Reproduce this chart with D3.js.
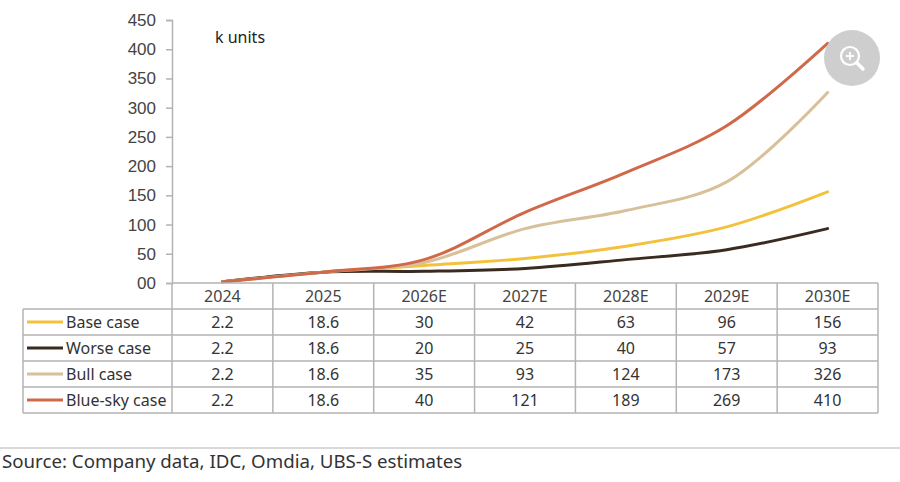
<!DOCTYPE html>
<html>
<head>
<meta charset="utf-8">
<script src="https://cdn.jsdelivr.net/npm/d3@7"></script>
<style>
  body { margin: 0; background: #fff; }
  svg { display: block; font-family: "Noto Sans", "Open Sans", sans-serif; }
</style>
</head>
<body>
<svg id="chart" width="900" height="482"></svg>
<script>
// Years along the x axis / table header
const years = ['2024', '2025', '2026E', '2027E', '2028E', '2029E', '2030E'];

// Series values (k units)
const baseCase = [2.2, 18.6, 30, 42, 63, 96, 156];
const worseCase = [2.2, 18.6, 20, 25, 40, 57, 93];
const bullCase = [2.2, 18.6, 35, 93, 124, 173, 326];
const blueSkyCase = [2.2, 18.6, 40, 121, 189, 269, 410];

const seriesNames = ['Base case', 'Worse case', 'Bull case', 'Blue-sky case'];
const seriesColors = ['#f3c23c', '#3a2a1f', '#d7c09a', '#d0694a'];

const yTicks = [0, 50, 100, 150, 200, 250, 300, 350, 400, 450];

const series = [baseCase, worseCase, bullCase, blueSkyCase].map((values, i) => ({
  name: seriesNames[i],
  color: seriesColors[i],
  values: values
}));

const svg = d3.select('#chart');
const grid = '#b3b3b3';
const ink = '#333';

// Columns of the table share the x positions of the chart
const x = d3.scaleBand()
  .domain(years)
  .range([172, 878])
  .padding(0);

const y = d3.scaleLinear()
  .domain([0, 450])
  .range([283, 20]);

// Table rows: header row then one row per series
const rows = d3.scaleBand()
  .domain(['header'].concat(seriesNames))
  .range([283, 413]);

// y axis
const yAxis = d3.axisLeft(y)
  .tickValues(yTicks)
  .tickSize(6)
  .tickFormat(d => (d === 0 ? '00' : d));

const gy = svg.append('g')
  .attr('transform', 'translate(172,0)')
  .call(yAxis);

gy.select('.domain').attr('stroke', grid).attr('stroke-width', 1.5);
gy.selectAll('.tick line').attr('stroke', grid).attr('stroke-width', 1.5);
gy.selectAll('.tick text')
  .attr('fill', '#444')
  .attr('font-size', 17)
  .attr('x', -16);

svg.append('text')
  .attr('x', 215)
  .attr('y', 43)
  .attr('font-size', 16)
  .attr('fill', '#222')
  .text('k units');

// Lines, smoothed like the original
const line = d3.line()
  .x((d, i) => x(years[i]) + x.bandwidth() / 2)
  .y(d => y(d))
  .curve(d3.curveCatmullRom.alpha(0.5));

svg.append('g')
  .selectAll('path')
  .data(series)
  .join('path')
  .attr('fill', 'none')
  .attr('stroke', d => d.color)
  .attr('stroke-width', 3)
  .attr('stroke-linecap', 'round')
  .attr('d', d => line(d.values));

// Data table
const table = svg.append('g');
const tableLeft = 23;

// horizontal grid lines
const rowEdges = rows.domain().map(r => rows(r)).concat([rows.range()[1]]);
table.selectAll('line.h')
  .data(rowEdges)
  .join('line')
  .attr('class', 'h')
  .attr('x1', (d, i) => (i === 0 ? x.range()[0] : tableLeft))
  .attr('x2', x.range()[1])
  .attr('y1', d => d)
  .attr('y2', d => d)
  .attr('stroke', grid)
  .attr('stroke-width', 1.5);

// vertical grid lines
const colEdges = years.map(yr => x(yr)).concat([x.range()[1]]);
table.selectAll('line.v')
  .data(colEdges)
  .join('line')
  .attr('class', 'v')
  .attr('x1', d => d)
  .attr('x2', d => d)
  .attr('y1', rows.range()[0])
  .attr('y2', rows.range()[1])
  .attr('stroke', grid)
  .attr('stroke-width', 1.5);

table.append('line')
  .attr('x1', tableLeft)
  .attr('x2', tableLeft)
  .attr('y1', rows(seriesNames[0]))
  .attr('y2', rows.range()[1])
  .attr('stroke', grid)
  .attr('stroke-width', 1.5);

// header labels
table.selectAll('text.year')
  .data(years)
  .join('text')
  .attr('class', 'year')
  .attr('x', d => x(d) + x.bandwidth() / 2)
  .attr('y', rows('header') + rows.bandwidth() / 2)
  .attr('dy', '0.35em')
  .attr('text-anchor', 'middle')
  .attr('font-size', 16)
  .attr('fill', '#444')
  .text(d => d);

// series rows
const rowG = table.selectAll('g.row')
  .data(series)
  .join('g')
  .attr('class', 'row')
  .attr('transform', d => `translate(0,${rows(d.name) + rows.bandwidth() / 2})`);

rowG.append('line')
  .attr('x1', 27)
  .attr('x2', 63)
  .attr('stroke', d => d.color)
  .attr('stroke-width', 3);

rowG.append('text')
  .attr('x', 66)
  .attr('dy', '0.35em')
  .attr('font-size', 16)
  .attr('fill', ink)
  .text(d => d.name);

rowG.selectAll('text.val')
  .data(d => d.values)
  .join('text')
  .attr('class', 'val')
  .attr('x', (d, i) => x(years[i]) + x.bandwidth() / 2)
  .attr('dy', '0.35em')
  .attr('text-anchor', 'middle')
  .attr('font-size', 16)
  .attr('fill', ink)
  .text(d => d);

// source note
svg.append('line')
  .attr('x1', 0)
  .attr('x2', 900)
  .attr('y1', 448)
  .attr('y2', 448)
  .attr('stroke', '#ccc')
  .attr('stroke-width', 1.5);

svg.append('text')
  .attr('x', 2)
  .attr('y', 468)
  .attr('font-size', 18.7)
  .attr('fill', ink)
  .text('Source: Company data, IDC, Omdia, UBS-S estimates');

// zoom badge in the corner
const badge = svg.append('g').attr('transform', 'translate(852,58)');
badge.append('circle').attr('r', 28).attr('fill', '#c9c9c9').attr('opacity', 0.9);
badge.append('circle').attr('cx', -2).attr('cy', -2).attr('r', 9)
  .attr('fill', 'none').attr('stroke', '#fff').attr('stroke-width', 2.2);
badge.append('line').attr('x1', 5).attr('y1', 5).attr('x2', 11).attr('y2', 11)
  .attr('stroke', '#fff').attr('stroke-width', 3.5).attr('stroke-linecap', 'round');
badge.append('path').attr('d', 'M-6,-2H2M-2,-6V2')
  .attr('stroke', '#fff').attr('stroke-width', 1.8);
</script>
</body>
</html>
